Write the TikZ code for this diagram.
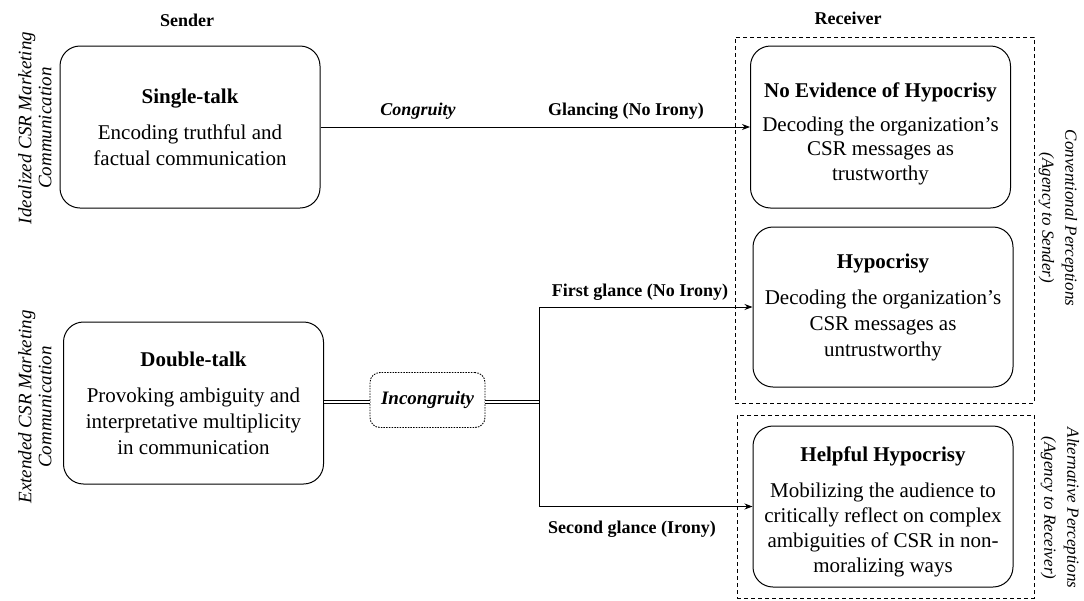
\documentclass[tikz,border=0pt]{standalone}
\usepackage{fontspec}
\setmainfont{Liberation Serif}
\usetikzlibrary{arrows.meta}
\begin{document}
\begin{tikzpicture}[x=1pt,y=-1pt,
  boxtext/.style={align=center, font=\fontsize{21}{26}\selectfont, inner sep=0pt},
  box/.style={boxtext, draw, line width=1pt, rounded corners=20pt, minimum width=260pt, minimum height=162pt},
  groupbox/.style={draw, line width=0.9pt, dash pattern=on 4pt off 3pt, inner sep=0pt},
  incbox/.style={draw, line width=0.9pt, dash pattern=on 1.5pt off 1.2pt, rounded corners=10pt, minimum width=115pt, minimum height=55pt, font=\fontsize{19}{22}\selectfont\bfseries\itshape, inner sep=0pt},
  lbl/.style={font=\fontsize{18}{22}\selectfont\bfseries, inner sep=0pt},
  sidel/.style={font=\fontsize{19}{20}\selectfont\itshape, align=center, inner sep=0pt, rotate=90},
  sider/.style={font=\fontsize{17}{23}\selectfont\itshape, align=center, inner sep=0pt, rotate=-90},
  arrow/.style={line width=0.9pt, -{Stealth[length=8pt,width=6pt]}},
  dbl/.style={line width=0.7pt, double, double distance=2.2pt}
]
\path[use as bounding box] (0,0) rectangle (1084,600);

% column headers
\node[lbl] (sender) at (187,20) {Sender};
\node[lbl] (receiver) at (848,18) {Receiver};

% side labels
\node[sidel] (ideal) at (35,128) {Idealized CSR Marketing\\Communication};
\node[sidel] (ext) at (35,407) {Extended CSR Marketing\\Communication};
\node[sider] (conv) at (1058,218) {Conventional Perceptions\\(Agency to Sender)};
\node[sider] (alt) at (1060,508) {Alternative Perceptions\\(Agency to Receiver)};

% group boxes
\node[groupbox, minimum width=299pt, minimum height=366pt] (g1) at (884.5,220) {};
\node[groupbox, minimum width=297pt, minimum height=183pt] (g2) at (885.5,506.5) {};

% sender boxes
\node[box] (single) at (190,127) {{\bfseries Single-talk}\\[10pt]Encoding truthful and\\factual communication};
\node[box] (double) at (193.5,403) {{\bfseries Double-talk}\\[10pt]Provoking ambiguity and\\interpretative multiplicity\\in communication};

% receiver boxes
\node[box] (noev) at (880.5,127) {};
\node[boxtext, font=\fontsize{21}{24.5}\selectfont] (noevtext) at (880.5,134) {{\bfseries No Evidence of Hypocrisy}\\[9pt]Decoding the organization’s\\CSR messages as\\trustworthy};
\node[box, minimum height=160pt] (hyp) at (883,307) {{\bfseries Hypocrisy}\\[10pt]Decoding the organization's\\CSR messages as\\untrustworthy};
\node[box, minimum height=161pt] (help) at (883,506.5) {};
\node[boxtext, font=\fontsize{21}{25}\selectfont] (helptext) at (883,512) {{\bfseries Helpful Hypocrisy}\\[11pt]Mobilizing the audience to\\critically reflect on complex\\ambiguities of CSR in non-\\moralizing ways};

% incongruity
\node[incbox] (incong) at (427.5,400) {Incongruity};
\coordinate (j) at (539,402);

% connectors
\draw[arrow] (single.east) -- (noev.west);
\draw[dbl] (double.east |- j) -- (incong.west |- j);
\draw[dbl] (incong.east |- j) -- (j);
\draw[arrow] (j) |- (hyp.west);
\draw[arrow] (j) |- (help.west);

% connector labels
\node[lbl, font=\fontsize{18}{22}\selectfont\bfseries\itshape] (cong) at (418,111) {Congruity};
\node[lbl] (glance) at (626,111) {Glancing (No Irony)};
\node[lbl] (first) at (640,292) {First glance (No Irony)};
\node[lbl] (second) at (632,529) {Second glance (Irony)};
\end{tikzpicture}
\end{document}
